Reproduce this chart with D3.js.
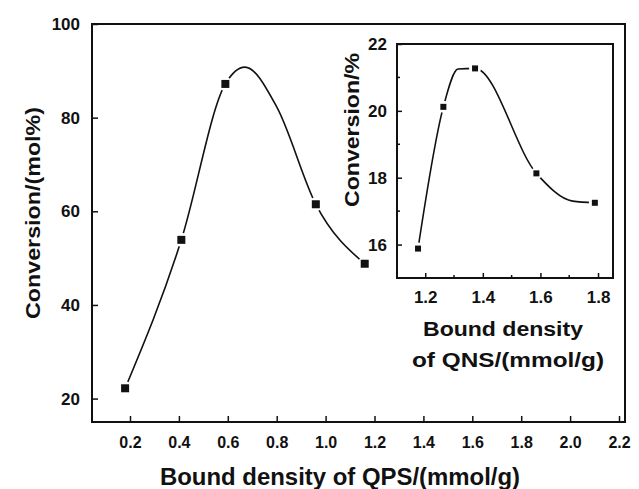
<!DOCTYPE html>
<html>
<head>
<meta charset="utf-8">
<script src="https://cdnjs.cloudflare.com/ajax/libs/d3/7.8.5/d3.min.js"></script>
<style>
  body { margin: 0; background: #fff; }
  svg { display: block; }
  text { font-family: "Liberation Sans", Arial, sans-serif; font-weight: bold; fill: #111; }
</style>
</head>
<body>
<div id="chart"></div>
<script>

// main plot: QPS (measured symbols)
var qpsDensity = [0.18, 0.41, 0.59, 0.96, 1.16];
var qpsConversion = [22.2, 53.9, 87.2, 61.5, 48.8];
// smoothed line
var qpsCurveX = [0.18, 0.41, 0.59, 0.67, 0.80, 0.96, 1.16];
var qpsCurveY = [22.2, 53.9, 87.2, 90.8, 82.3, 61.5, 48.8];
var mainXTicks = [0.2, 0.4, 0.6, 0.8, 1.0, 1.2, 1.4, 1.6, 1.8, 2.0, 2.2];
var mainYTicks = [20, 40, 60, 80, 100];

// inset: QNS
var qnsDensity = [1.175, 1.263, 1.373, 1.586, 1.789];
var qnsConversion = [15.88, 20.12, 21.27, 18.13, 17.25];
var qnsCurveX = [1.175, 1.263, 1.314, 1.373, 1.586, 1.712, 1.789];
var qnsCurveY = [15.88, 20.12, 21.25, 21.27, 18.13, 17.30, 17.25];
var insetXTicks = [1.2, 1.4, 1.6, 1.8];
var insetXMinor = [1.3, 1.5, 1.7];
var insetYTicks = [16, 18, 20, 22];
var insetYMinor = [17, 19, 21];

var width = 639,
    height = 489;

var svg = d3.select('#chart').append('svg')
  .attr('width', width)
  .attr('height', height);

var drawPanel = (opt) => {
  var x = d3.scaleLinear().domain(opt.xDomain).range([opt.left, opt.right]),
      y = d3.scaleLinear().domain(opt.yDomain).range([opt.bottom, opt.top]);

  var g = svg.append('g');

  g.append('rect')
    .attr('x', opt.left).attr('y', opt.top)
    .attr('width', opt.right - opt.left).attr('height', opt.bottom - opt.top)
    .attr('fill', '#fff')
    .attr('stroke', '#111')
    .attr('stroke-width', 2);

  // x axis, ticks point inward
  var xAxis = d3.axisBottom(x)
    .tickValues(opt.xTicks)
    .tickSizeInner(-opt.tick)
    .tickSizeOuter(0)
    .tickPadding(opt.tick + opt.xPad)
    .tickFormat(d3.format('.1f'));

  var gx = g.append('g')
    .attr('transform', 'translate(0,' + opt.bottom + ')')
    .call(xAxis);
  gx.select('.domain').remove();
  gx.selectAll('line').attr('stroke', '#111').attr('stroke-width', 1.5);
  gx.selectAll('text')
    .style('font-size', opt.xFont + 'px')
    .style('font-family', opt.tickFamily)
    .attr('fill', '#111');

  if (opt.xMinor) {
    g.append('g').selectAll('line')
      .data(opt.xMinor)
      .enter().append('line')
      .attr('x1', function(d) { return x(d); })
      .attr('x2', function(d) { return x(d); })
      .attr('y1', opt.bottom)
      .attr('y2', opt.bottom - opt.tick * 0.6)
      .attr('stroke', '#111').attr('stroke-width', 1.5);
  }

  var yAxis = d3.axisLeft(y)
    .tickValues(opt.yTicks)
    .tickSizeInner(-opt.tick)
    .tickSizeOuter(0)
    .tickPadding(opt.tick + opt.yPad)
    .tickFormat(d3.format('d'));

  var gy = g.append('g')
    .attr('transform', 'translate(' + opt.left + ',0)')
    .call(yAxis);
  gy.select('.domain').remove();
  gy.selectAll('line').attr('stroke', '#111').attr('stroke-width', 1.5);
  gy.selectAll('text')
    .style('font-size', opt.yFont + 'px')
    .style('font-family', opt.tickFamily)
    .attr('fill', '#111');

  if (opt.yMinor) {
    g.append('g').selectAll('line')
      .data(opt.yMinor)
      .enter().append('line')
      .attr('x1', opt.left)
      .attr('x2', opt.left + opt.tick * 0.6)
      .attr('y1', function(d) { return y(d); })
      .attr('y2', function(d) { return y(d); })
      .attr('stroke', '#111').attr('stroke-width', 1.5);
  }

  var pts = opt.xs.map(function(d, i) { return [d, opt.ys[i]]; });
  var curvePts = opt.cx.map(function(d, i) { return [d, opt.cy[i]]; });

  var line = d3.line()
    .curve(d3.curveMonotoneX)
    .x(function(d) { return x(d[0]); })
    .y(function(d) { return y(d[1]); });

  g.append('path')
    .datum(curvePts)
    .attr('d', line)
    .attr('fill', 'none')
    .attr('stroke', '#111')
    .attr('stroke-width', 1.6);

  // white halo so the curve breaks near each symbol
  g.append('g').selectAll('circle')
    .data(pts)
    .enter().append('circle')
    .attr('cx', function(d) { return x(d[0]); })
    .attr('cy', function(d) { return y(d[1]); })
    .attr('r', opt.gap)
    .attr('fill', '#fff');

  g.append('g').selectAll('rect')
    .data(pts)
    .enter().append('rect')
    .attr('x', function(d) { return x(d[0]) - opt.marker / 2; })
    .attr('y', function(d) { return y(d[1]) - opt.marker / 2; })
    .attr('width', opt.marker)
    .attr('height', opt.marker)
    .attr('fill', '#111');
};

drawPanel({
  left: 92, right: 625, top: 24, bottom: 422,
  xDomain: [0.0446, 2.2245], yDomain: [15, 100],
  xTicks: mainXTicks, yTicks: mainYTicks,
  xs: qpsDensity, ys: qpsConversion,
  cx: qpsCurveX, cy: qpsCurveY,
  tick: 6, xPad: 9, yPad: 6,
  xFont: 16, yFont: 17, tickFamily: '"Liberation Sans", Arial, sans-serif',
  marker: 8, gap: 7
});

drawPanel({
  left: 397, right: 613, top: 44, bottom: 278,
  xDomain: [1.102, 1.852], yDomain: [15, 22],
  xTicks: insetXTicks, yTicks: insetYTicks,
  xMinor: insetXMinor, yMinor: insetYMinor,
  xs: qnsDensity, ys: qnsConversion,
  cx: qnsCurveX, cy: qnsCurveY,
  tick: 5, xPad: 8, yPad: 5,
  xFont: 17, yFont: 17, tickFamily: '"Liberation Sans Narrow", "Liberation Sans", sans-serif',
  marker: 6, gap: 6
});

// axis titles
svg.append('text')
  .attr('x', 340).attr('y', 485)
  .attr('text-anchor', 'middle')
  .attr('textLength', 360)
  .attr('lengthAdjust', 'spacingAndGlyphs')
  .style('font-size', '23px')
  .text('Bound density of QPS/(mmol/g)');

svg.append('text')
  .attr('transform', 'translate(40,213) rotate(-90)')
  .attr('text-anchor', 'middle')
  .attr('textLength', 212)
  .attr('lengthAdjust', 'spacingAndGlyphs')
  .style('font-size', '21px')
  .text('Conversion/(mol%)');

svg.append('text')
  .attr('transform', 'translate(359,130) rotate(-90)')
  .attr('text-anchor', 'middle')
  .attr('textLength', 154)
  .attr('lengthAdjust', 'spacingAndGlyphs')
  .style('font-size', '20px')
  .text('Conversion/%');

svg.append('text')
  .attr('x', 503).attr('y', 336)
  .attr('text-anchor', 'middle')
  .attr('textLength', 160)
  .attr('lengthAdjust', 'spacingAndGlyphs')
  .style('font-size', '20px')
  .text('Bound density');

svg.append('text')
  .attr('x', 508).attr('y', 367)
  .attr('text-anchor', 'middle')
  .attr('textLength', 192)
  .attr('lengthAdjust', 'spacingAndGlyphs')
  .style('font-size', '20px')
  .text('of QNS/(mmol/g)');

</script>
</body>
</html>
